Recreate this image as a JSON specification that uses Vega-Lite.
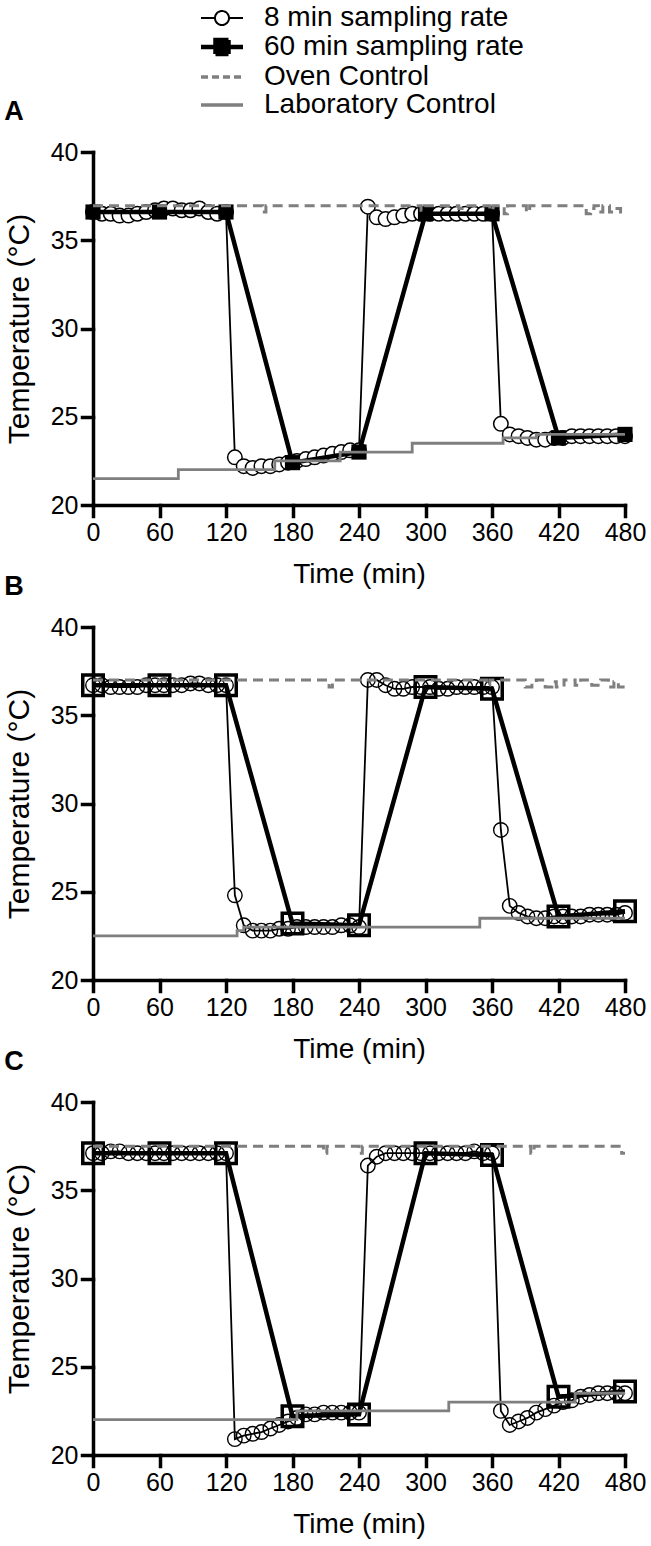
{
  "$schema": "https://vega.github.io/schema/vega-lite/v6.json",
  "background": "white",
  "padding": {"left": 4, "right": 2, "top": 4, "bottom": 4},
  "bounds": "flush",
  "spacing": 122,
  "config": {
    "view": {"stroke": null},
    "font": "Liberation Sans",
    "axis": {
      "domainColor": "black", "domainWidth": 3.5, "domainCap": "square",
      "tickColor": "black", "tickWidth": 3.5, "tickSize": 11, "tickCap": "square",
      "labelFont": "Liberation Sans", "labelFontSize": 25, "labelColor": "black", "labelPadding": 4, "labelFlush": false,
      "titleFont": "Liberation Sans", "titleFontSize": 28, "titleFontWeight": "normal", "titleColor": "black",
      "grid": false
    },
    "axisX": {"titlePadding": 15},
    "axisY": {"titlePadding": 16, "titleFontSize": 30},
    "title": {"anchor": "start", "frame": "bounds", "fontSize": 27, "fontWeight": "bold", "font": "Liberation Sans", "color": "black", "offset": 14}
  },
  "datasets": {
    "A8": [
      {"t":0,"v":36.6,"s":"8 min sampling rate"},{"t":8,"v":36.5,"s":"8 min sampling rate"},{"t":16,"v":36.5,"s":"8 min sampling rate"},{"t":24,"v":36.4,"s":"8 min sampling rate"},{"t":32,"v":36.4,"s":"8 min sampling rate"},{"t":40,"v":36.5,"s":"8 min sampling rate"},{"t":48,"v":36.6,"s":"8 min sampling rate"},{"t":56,"v":36.7,"s":"8 min sampling rate"},{"t":64,"v":36.8,"s":"8 min sampling rate"},{"t":72,"v":36.8,"s":"8 min sampling rate"},{"t":80,"v":36.7,"s":"8 min sampling rate"},{"t":88,"v":36.7,"s":"8 min sampling rate"},{"t":96,"v":36.8,"s":"8 min sampling rate"},{"t":104,"v":36.6,"s":"8 min sampling rate"},{"t":112,"v":36.5,"s":"8 min sampling rate"},{"t":120,"v":36.6,"s":"8 min sampling rate"},
      {"t":128,"v":22.7,"s":"8 min sampling rate"},{"t":136,"v":22.2,"s":"8 min sampling rate"},{"t":144,"v":22.1,"s":"8 min sampling rate"},{"t":152,"v":22.2,"s":"8 min sampling rate"},{"t":160,"v":22.2,"s":"8 min sampling rate"},{"t":168,"v":22.3,"s":"8 min sampling rate"},{"t":176,"v":22.4,"s":"8 min sampling rate"},{"t":184,"v":22.5,"s":"8 min sampling rate"},{"t":192,"v":22.6,"s":"8 min sampling rate"},{"t":200,"v":22.7,"s":"8 min sampling rate"},{"t":208,"v":22.8,"s":"8 min sampling rate"},{"t":216,"v":22.9,"s":"8 min sampling rate"},{"t":224,"v":23.0,"s":"8 min sampling rate"},{"t":232,"v":23.1,"s":"8 min sampling rate"},{"t":240,"v":23.1,"s":"8 min sampling rate"},
      {"t":248,"v":36.9,"s":"8 min sampling rate"},{"t":256,"v":36.3,"s":"8 min sampling rate"},{"t":264,"v":36.2,"s":"8 min sampling rate"},{"t":272,"v":36.3,"s":"8 min sampling rate"},{"t":280,"v":36.4,"s":"8 min sampling rate"},{"t":288,"v":36.5,"s":"8 min sampling rate"},{"t":296,"v":36.5,"s":"8 min sampling rate"},{"t":304,"v":36.5,"s":"8 min sampling rate"},{"t":312,"v":36.5,"s":"8 min sampling rate"},{"t":320,"v":36.5,"s":"8 min sampling rate"},{"t":328,"v":36.5,"s":"8 min sampling rate"},{"t":336,"v":36.5,"s":"8 min sampling rate"},{"t":344,"v":36.5,"s":"8 min sampling rate"},{"t":352,"v":36.5,"s":"8 min sampling rate"},{"t":360,"v":36.5,"s":"8 min sampling rate"},
      {"t":368,"v":24.6,"s":"8 min sampling rate"},{"t":376,"v":24.0,"s":"8 min sampling rate"},{"t":384,"v":23.9,"s":"8 min sampling rate"},{"t":392,"v":23.8,"s":"8 min sampling rate"},{"t":400,"v":23.7,"s":"8 min sampling rate"},{"t":408,"v":23.7,"s":"8 min sampling rate"},{"t":416,"v":23.8,"s":"8 min sampling rate"},{"t":424,"v":23.8,"s":"8 min sampling rate"},{"t":432,"v":23.9,"s":"8 min sampling rate"},{"t":440,"v":23.9,"s":"8 min sampling rate"},{"t":448,"v":23.9,"s":"8 min sampling rate"},{"t":456,"v":23.9,"s":"8 min sampling rate"},{"t":464,"v":23.9,"s":"8 min sampling rate"},{"t":472,"v":23.9,"s":"8 min sampling rate"},{"t":480,"v":23.9,"s":"8 min sampling rate"}
    ],
    "A60": [
      {"t":0,"v":36.6,"s":"60 min sampling rate"},{"t":60,"v":36.6,"s":"60 min sampling rate"},{"t":120,"v":36.6,"s":"60 min sampling rate"},{"t":180,"v":22.4,"s":"60 min sampling rate"},{"t":240,"v":23.0,"s":"60 min sampling rate"},{"t":300,"v":36.5,"s":"60 min sampling rate"},{"t":360,"v":36.5,"s":"60 min sampling rate"},{"t":420,"v":23.8,"s":"60 min sampling rate"},{"t":480,"v":24.0,"s":"60 min sampling rate"}
    ],
    "AOven": [
      {"t":0,"v":36.95,"s":"Oven Control"},{"t":153,"v":36.6,"s":"Oven Control"},{"t":156,"v":36.95,"s":"Oven Control"},{"t":296,"v":36.7,"s":"Oven Control"},{"t":299,"v":36.95,"s":"Oven Control"},{"t":330,"v":36.8,"s":"Oven Control"},{"t":333,"v":36.95,"s":"Oven Control"},{"t":358,"v":36.7,"s":"Oven Control"},{"t":361,"v":36.95,"s":"Oven Control"},{"t":371,"v":36.5,"s":"Oven Control"},{"t":374,"v":36.95,"s":"Oven Control"},{"t":391,"v":36.6,"s":"Oven Control"},{"t":394,"v":36.95,"s":"Oven Control"},{"t":445,"v":36.5,"s":"Oven Control"},{"t":449,"v":36.8,"s":"Oven Control"},{"t":452,"v":36.95,"s":"Oven Control"},{"t":456,"v":36.6,"s":"Oven Control"},{"t":460,"v":36.95,"s":"Oven Control"},{"t":466,"v":36.6,"s":"Oven Control"},{"t":470,"v":36.8,"s":"Oven Control"},{"t":476,"v":36.6,"s":"Oven Control"},{"t":480,"v":36.6,"s":"Oven Control"}
    ],
    "ALab": [
      {"t":0,"v":21.5,"s":"Laboratory Control"},{"t":77,"v":22.0,"s":"Laboratory Control"},{"t":164,"v":22.5,"s":"Laboratory Control"},{"t":223,"v":23.0,"s":"Laboratory Control"},{"t":288,"v":23.5,"s":"Laboratory Control"},{"t":370,"v":23.8,"s":"Laboratory Control"},{"t":400,"v":24.0,"s":"Laboratory Control"},{"t":480,"v":24.0,"s":"Laboratory Control"}
    ],
    "B8": [
      {"t":0,"v":36.7,"s":"8 min sampling rate"},{"t":8,"v":36.7,"s":"8 min sampling rate"},{"t":16,"v":36.6,"s":"8 min sampling rate"},{"t":24,"v":36.6,"s":"8 min sampling rate"},{"t":32,"v":36.6,"s":"8 min sampling rate"},{"t":40,"v":36.6,"s":"8 min sampling rate"},{"t":48,"v":36.7,"s":"8 min sampling rate"},{"t":56,"v":36.7,"s":"8 min sampling rate"},{"t":64,"v":36.7,"s":"8 min sampling rate"},{"t":72,"v":36.7,"s":"8 min sampling rate"},{"t":80,"v":36.7,"s":"8 min sampling rate"},{"t":88,"v":36.8,"s":"8 min sampling rate"},{"t":96,"v":36.8,"s":"8 min sampling rate"},{"t":104,"v":36.7,"s":"8 min sampling rate"},{"t":112,"v":36.7,"s":"8 min sampling rate"},{"t":120,"v":36.7,"s":"8 min sampling rate"},
      {"t":128,"v":24.8,"s":"8 min sampling rate"},{"t":136,"v":23.1,"s":"8 min sampling rate"},{"t":144,"v":22.8,"s":"8 min sampling rate"},{"t":152,"v":22.8,"s":"8 min sampling rate"},{"t":160,"v":22.8,"s":"8 min sampling rate"},{"t":168,"v":22.9,"s":"8 min sampling rate"},{"t":176,"v":22.9,"s":"8 min sampling rate"},{"t":184,"v":23.0,"s":"8 min sampling rate"},{"t":192,"v":23.0,"s":"8 min sampling rate"},{"t":200,"v":23.0,"s":"8 min sampling rate"},{"t":208,"v":23.0,"s":"8 min sampling rate"},{"t":216,"v":23.0,"s":"8 min sampling rate"},{"t":224,"v":23.1,"s":"8 min sampling rate"},{"t":232,"v":23.1,"s":"8 min sampling rate"},{"t":240,"v":23.0,"s":"8 min sampling rate"},
      {"t":248,"v":37.0,"s":"8 min sampling rate"},{"t":256,"v":37.0,"s":"8 min sampling rate"},{"t":264,"v":36.7,"s":"8 min sampling rate"},{"t":272,"v":36.5,"s":"8 min sampling rate"},{"t":280,"v":36.5,"s":"8 min sampling rate"},{"t":288,"v":36.6,"s":"8 min sampling rate"},{"t":296,"v":36.6,"s":"8 min sampling rate"},{"t":304,"v":36.6,"s":"8 min sampling rate"},{"t":312,"v":36.5,"s":"8 min sampling rate"},{"t":320,"v":36.5,"s":"8 min sampling rate"},{"t":328,"v":36.6,"s":"8 min sampling rate"},{"t":336,"v":36.6,"s":"8 min sampling rate"},{"t":344,"v":36.6,"s":"8 min sampling rate"},{"t":352,"v":36.6,"s":"8 min sampling rate"},{"t":360,"v":36.6,"s":"8 min sampling rate"},
      {"t":368,"v":28.5,"s":"8 min sampling rate"},{"t":376,"v":24.2,"s":"8 min sampling rate"},{"t":384,"v":23.8,"s":"8 min sampling rate"},{"t":392,"v":23.6,"s":"8 min sampling rate"},{"t":400,"v":23.5,"s":"8 min sampling rate"},{"t":408,"v":23.5,"s":"8 min sampling rate"},{"t":416,"v":23.6,"s":"8 min sampling rate"},{"t":424,"v":23.6,"s":"8 min sampling rate"},{"t":432,"v":23.6,"s":"8 min sampling rate"},{"t":440,"v":23.6,"s":"8 min sampling rate"},{"t":448,"v":23.7,"s":"8 min sampling rate"},{"t":456,"v":23.7,"s":"8 min sampling rate"},{"t":464,"v":23.7,"s":"8 min sampling rate"},{"t":472,"v":23.7,"s":"8 min sampling rate"},{"t":480,"v":23.8,"s":"8 min sampling rate"}
    ],
    "B60": [
      {"t":0,"v":36.7,"s":"60 min sampling rate"},{"t":60,"v":36.7,"s":"60 min sampling rate"},{"t":120,"v":36.7,"s":"60 min sampling rate"},{"t":180,"v":23.2,"s":"60 min sampling rate"},{"t":240,"v":23.1,"s":"60 min sampling rate"},{"t":300,"v":36.6,"s":"60 min sampling rate"},{"t":360,"v":36.5,"s":"60 min sampling rate"},{"t":420,"v":23.6,"s":"60 min sampling rate"},{"t":480,"v":23.9,"s":"60 min sampling rate"}
    ],
    "BOven": [
      {"t":0,"v":37.0,"s":"Oven Control"},{"t":213,"v":36.6,"s":"Oven Control"},{"t":216,"v":37.0,"s":"Oven Control"},{"t":355,"v":36.7,"s":"Oven Control"},{"t":358,"v":37.0,"s":"Oven Control"},{"t":390,"v":36.6,"s":"Oven Control"},{"t":396,"v":36.8,"s":"Oven Control"},{"t":400,"v":37.0,"s":"Oven Control"},{"t":408,"v":36.6,"s":"Oven Control"},{"t":414,"v":36.9,"s":"Oven Control"},{"t":418,"v":36.6,"s":"Oven Control"},{"t":425,"v":37.0,"s":"Oven Control"},{"t":435,"v":36.7,"s":"Oven Control"},{"t":440,"v":37.0,"s":"Oven Control"},{"t":450,"v":36.7,"s":"Oven Control"},{"t":458,"v":37.0,"s":"Oven Control"},{"t":465,"v":36.6,"s":"Oven Control"},{"t":470,"v":36.9,"s":"Oven Control"},{"t":474,"v":36.6,"s":"Oven Control"},{"t":480,"v":36.6,"s":"Oven Control"}
    ],
    "BLab": [
      {"t":0,"v":22.5,"s":"Laboratory Control"},{"t":130,"v":22.8,"s":"Laboratory Control"},{"t":136,"v":23.0,"s":"Laboratory Control"},{"t":349,"v":23.5,"s":"Laboratory Control"},{"t":480,"v":23.5,"s":"Laboratory Control"}
    ],
    "C8": [
      {"t":0,"v":37.1,"s":"8 min sampling rate"},{"t":8,"v":37.1,"s":"8 min sampling rate"},{"t":16,"v":37.2,"s":"8 min sampling rate"},{"t":24,"v":37.2,"s":"8 min sampling rate"},{"t":32,"v":37.1,"s":"8 min sampling rate"},{"t":40,"v":37.1,"s":"8 min sampling rate"},{"t":48,"v":37.1,"s":"8 min sampling rate"},{"t":56,"v":37.1,"s":"8 min sampling rate"},{"t":64,"v":37.1,"s":"8 min sampling rate"},{"t":72,"v":37.1,"s":"8 min sampling rate"},{"t":80,"v":37.1,"s":"8 min sampling rate"},{"t":88,"v":37.1,"s":"8 min sampling rate"},{"t":96,"v":37.1,"s":"8 min sampling rate"},{"t":104,"v":37.1,"s":"8 min sampling rate"},{"t":112,"v":37.1,"s":"8 min sampling rate"},{"t":120,"v":37.1,"s":"8 min sampling rate"},
      {"t":128,"v":20.9,"s":"8 min sampling rate"},{"t":136,"v":21.1,"s":"8 min sampling rate"},{"t":144,"v":21.2,"s":"8 min sampling rate"},{"t":152,"v":21.3,"s":"8 min sampling rate"},{"t":160,"v":21.5,"s":"8 min sampling rate"},{"t":168,"v":21.7,"s":"8 min sampling rate"},{"t":176,"v":21.9,"s":"8 min sampling rate"},{"t":184,"v":22.1,"s":"8 min sampling rate"},{"t":192,"v":22.3,"s":"8 min sampling rate"},{"t":200,"v":22.3,"s":"8 min sampling rate"},{"t":208,"v":22.4,"s":"8 min sampling rate"},{"t":216,"v":22.4,"s":"8 min sampling rate"},{"t":224,"v":22.4,"s":"8 min sampling rate"},{"t":232,"v":22.4,"s":"8 min sampling rate"},{"t":240,"v":22.4,"s":"8 min sampling rate"},
      {"t":248,"v":36.4,"s":"8 min sampling rate"},{"t":256,"v":36.9,"s":"8 min sampling rate"},{"t":264,"v":37.1,"s":"8 min sampling rate"},{"t":272,"v":37.1,"s":"8 min sampling rate"},{"t":280,"v":37.1,"s":"8 min sampling rate"},{"t":288,"v":37.1,"s":"8 min sampling rate"},{"t":296,"v":37.1,"s":"8 min sampling rate"},{"t":304,"v":37.1,"s":"8 min sampling rate"},{"t":312,"v":37.1,"s":"8 min sampling rate"},{"t":320,"v":37.1,"s":"8 min sampling rate"},{"t":328,"v":37.1,"s":"8 min sampling rate"},{"t":336,"v":37.1,"s":"8 min sampling rate"},{"t":344,"v":37.2,"s":"8 min sampling rate"},{"t":352,"v":37.1,"s":"8 min sampling rate"},{"t":360,"v":37.1,"s":"8 min sampling rate"},
      {"t":368,"v":22.5,"s":"8 min sampling rate"},{"t":376,"v":21.7,"s":"8 min sampling rate"},{"t":384,"v":21.9,"s":"8 min sampling rate"},{"t":392,"v":22.1,"s":"8 min sampling rate"},{"t":400,"v":22.4,"s":"8 min sampling rate"},{"t":408,"v":22.6,"s":"8 min sampling rate"},{"t":416,"v":22.8,"s":"8 min sampling rate"},{"t":424,"v":23.0,"s":"8 min sampling rate"},{"t":432,"v":23.1,"s":"8 min sampling rate"},{"t":440,"v":23.3,"s":"8 min sampling rate"},{"t":448,"v":23.4,"s":"8 min sampling rate"},{"t":456,"v":23.5,"s":"8 min sampling rate"},{"t":464,"v":23.5,"s":"8 min sampling rate"},{"t":472,"v":23.5,"s":"8 min sampling rate"},{"t":480,"v":23.5,"s":"8 min sampling rate"}
    ],
    "C60": [
      {"t":0,"v":37.1,"s":"60 min sampling rate"},{"t":60,"v":37.1,"s":"60 min sampling rate"},{"t":120,"v":37.1,"s":"60 min sampling rate"},{"t":180,"v":22.2,"s":"60 min sampling rate"},{"t":240,"v":22.3,"s":"60 min sampling rate"},{"t":300,"v":37.1,"s":"60 min sampling rate"},{"t":360,"v":37.0,"s":"60 min sampling rate"},{"t":420,"v":23.3,"s":"60 min sampling rate"},{"t":480,"v":23.6,"s":"60 min sampling rate"}
    ],
    "COven": [
      {"t":0,"v":37.5,"s":"Oven Control"},{"t":208,"v":37.1,"s":"Oven Control"},{"t":211,"v":37.5,"s":"Oven Control"},{"t":240,"v":37.1,"s":"Oven Control"},{"t":243,"v":37.5,"s":"Oven Control"},{"t":395,"v":37.1,"s":"Oven Control"},{"t":398,"v":37.5,"s":"Oven Control"},{"t":477,"v":37.1,"s":"Oven Control"},{"t":480,"v":37.1,"s":"Oven Control"}
    ],
    "CLab": [
      {"t":0,"v":22.0,"s":"Laboratory Control"},{"t":184,"v":22.5,"s":"Laboratory Control"},{"t":321,"v":23.0,"s":"Laboratory Control"},{"t":435,"v":23.5,"s":"Laboratory Control"},{"t":480,"v":23.5,"s":"Laboratory Control"}
    ]
  },
  "vconcat": [
    {
      "title": {"text": "A"},
      "width": 532, "height": 353,
      "encoding": {
        "x": {"field": "t", "type": "quantitative", "scale": {"domain": [0, 480], "nice": false}, "axis": {"values": [0,60,120,180,240,300,360,420,480], "title": "Time (min)"}},
        "y": {"field": "v", "type": "quantitative", "scale": {"domain": [20, 40], "nice": false, "zero": false}, "axis": {"values": [20,25,30,35,40], "title": "Temperature (°C)"}}
      },
      "layer": [
        {"data": {"name": "A8"}, "mark": {"type": "line", "strokeWidth": 1.8},
         "encoding": {"stroke": {"field": "s", "type": "nominal",
           "scale": {"domain": ["8 min sampling rate", "60 min sampling rate", "Oven Control", "Laboratory Control"], "range": ["black", "black", "#7f7f7f", "#7f7f7f"]},
           "legend": {
             "title": null, "orient": "none", "legendX": 115, "legendY": -148, "padding": 0,
             "labelFont": "Liberation Sans", "labelFontSize": 28, "labelColor": "black", "labelOffset": 28, "labelLimit": 500, "rowPadding": -1, "symbolSize": 400,
             "encode": {"symbols": {"update": {
               "shape": {"signal": "datum.value == '8 min sampling rate' ? 'M-2.1,0H-0.7M0.7,0H2.1M0.7,0A0.7,0.7 0 1 1 -0.7,0A0.7,0.7 0 1 1 0.7,0Z' : datum.value == '60 min sampling rate' ? 'M-2.1,0H2.1M-0.65,-0.7H0.65V0.7H-0.65Z' : 'M-2.1,0H2.1'"},
               "fill": {"signal": "datum.value == '8 min sampling rate' ? 'white' : datum.value == '60 min sampling rate' ? 'black' : 'transparent'"},
               "stroke": {"signal": "datum.value == 'Oven Control' || datum.value == 'Laboratory Control' ? '#7f7f7f' : 'black'"},
               "strokeWidth": {"signal": "datum.value == '60 min sampling rate' ? 4.5 : datum.value == '8 min sampling rate' ? 2 : 3.5"},
               "strokeDash": {"signal": "datum.value == 'Oven Control' ? [7, 4] : [1, 0]"},
               "opacity": {"value": 1}
             }}}
           }}}},
        {"data": {"name": "A8"}, "mark": {"type": "point", "shape": "circle", "filled": true, "fill": "white", "stroke": "black", "strokeWidth": 1.5, "size": 210, "opacity": 1}},
        {"data": {"name": "A60"}, "mark": {"type": "line", "strokeWidth": 4.5}, "encoding": {"stroke": {"field": "s", "type": "nominal"}}},
        {"data": {"name": "A60"}, "mark": {"type": "point", "shape": "square", "filled": true, "color": "black", "size": 230, "opacity": 1}},
        {"data": {"name": "AOven"}, "mark": {"type": "line", "interpolate": "step-after", "strokeWidth": 3, "strokeDash": [10, 6]}, "encoding": {"stroke": {"field": "s", "type": "nominal"}}},
        {"data": {"name": "ALab"}, "mark": {"type": "line", "interpolate": "step-after", "strokeWidth": 2.8}, "encoding": {"stroke": {"field": "s", "type": "nominal"}}}
      ]
    },
    {
      "title": {"text": "B"},
      "width": 532, "height": 353,
      "encoding": {
        "x": {"field": "t", "type": "quantitative", "scale": {"domain": [0, 480], "nice": false}, "axis": {"values": [0,60,120,180,240,300,360,420,480], "title": "Time (min)"}},
        "y": {"field": "v", "type": "quantitative", "scale": {"domain": [20, 40], "nice": false, "zero": false}, "axis": {"values": [20,25,30,35,40], "title": "Temperature (°C)"}}
      },
      "layer": [
        {"data": {"name": "B8"}, "mark": {"type": "line", "strokeWidth": 1.8}, "encoding": {"stroke": {"field": "s", "type": "nominal"}}},
        {"data": {"name": "B8"}, "mark": {"type": "point", "shape": "circle", "filled": false, "stroke": "black", "strokeWidth": 1.4, "size": 210, "opacity": 1}},
        {"data": {"name": "B60"}, "mark": {"type": "line", "strokeWidth": 4.5}, "encoding": {"stroke": {"field": "s", "type": "nominal"}}},
        {"data": {"name": "B60"}, "mark": {"type": "point", "shape": "square", "filled": false, "stroke": "black", "strokeWidth": 3.5, "size": 420, "opacity": 1}},
        {"data": {"name": "BOven"}, "mark": {"type": "line", "interpolate": "step-after", "strokeWidth": 3, "strokeDash": [10, 6]}, "encoding": {"stroke": {"field": "s", "type": "nominal"}}},
        {"data": {"name": "BLab"}, "mark": {"type": "line", "interpolate": "step-after", "strokeWidth": 2.8}, "encoding": {"stroke": {"field": "s", "type": "nominal"}}}
      ]
    },
    {
      "title": {"text": "C"},
      "width": 532, "height": 353,
      "encoding": {
        "x": {"field": "t", "type": "quantitative", "scale": {"domain": [0, 480], "nice": false}, "axis": {"values": [0,60,120,180,240,300,360,420,480], "title": "Time (min)"}},
        "y": {"field": "v", "type": "quantitative", "scale": {"domain": [20, 40], "nice": false, "zero": false}, "axis": {"values": [20,25,30,35,40], "title": "Temperature (°C)"}}
      },
      "layer": [
        {"data": {"name": "C8"}, "mark": {"type": "line", "strokeWidth": 1.8}, "encoding": {"stroke": {"field": "s", "type": "nominal"}}},
        {"data": {"name": "C8"}, "mark": {"type": "point", "shape": "circle", "filled": false, "stroke": "black", "strokeWidth": 1.4, "size": 210, "opacity": 1}},
        {"data": {"name": "C60"}, "mark": {"type": "line", "strokeWidth": 4.5}, "encoding": {"stroke": {"field": "s", "type": "nominal"}}},
        {"data": {"name": "C60"}, "mark": {"type": "point", "shape": "square", "filled": false, "stroke": "black", "strokeWidth": 3.5, "size": 420, "opacity": 1}},
        {"data": {"name": "COven"}, "mark": {"type": "line", "interpolate": "step-after", "strokeWidth": 3, "strokeDash": [10, 6]}, "encoding": {"stroke": {"field": "s", "type": "nominal"}}},
        {"data": {"name": "CLab"}, "mark": {"type": "line", "interpolate": "step-after", "strokeWidth": 2.8}, "encoding": {"stroke": {"field": "s", "type": "nominal"}}}
      ]
    }
  ]
}
